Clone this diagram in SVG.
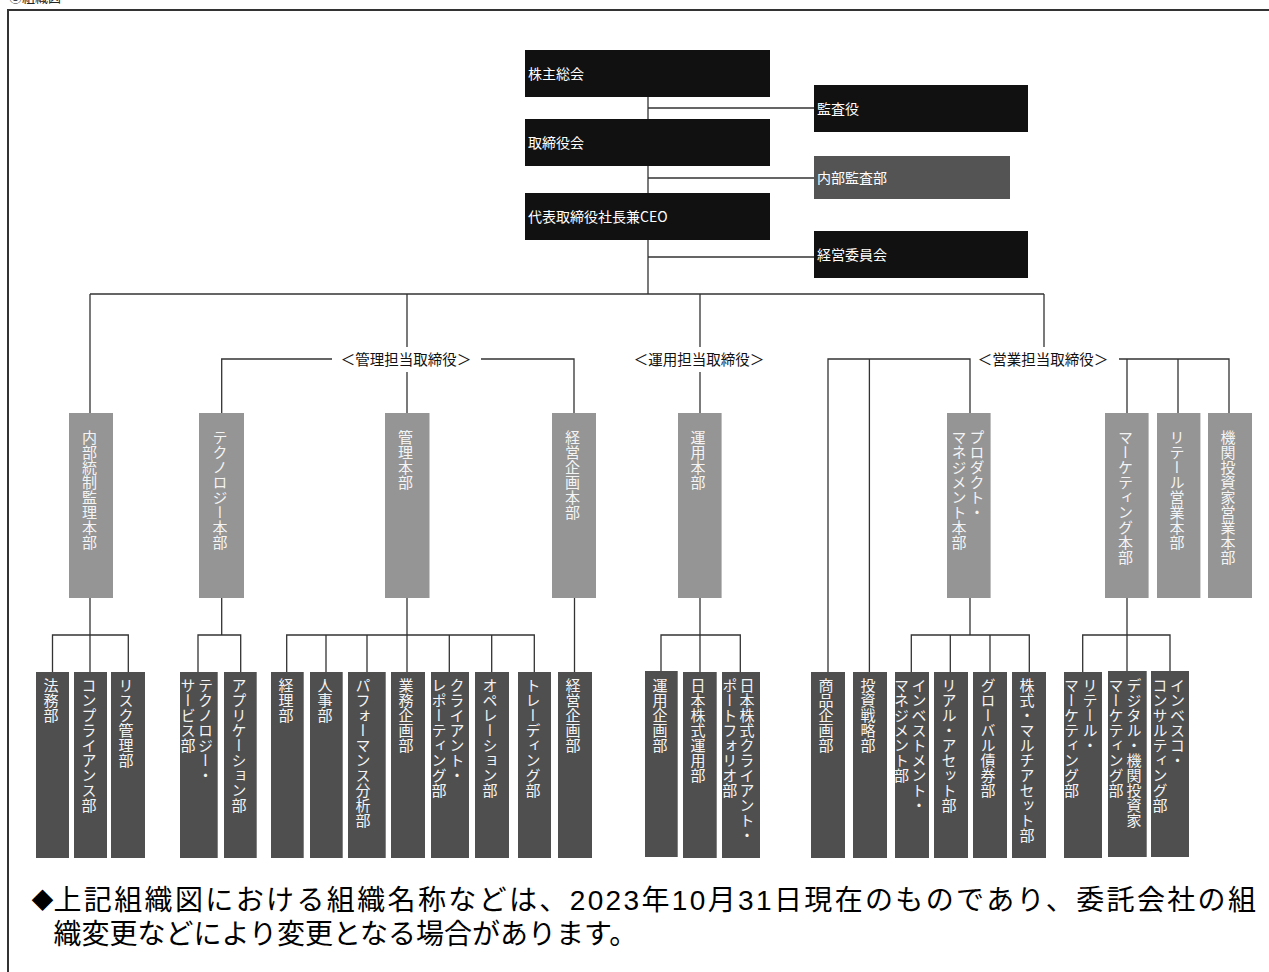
<svg xmlns="http://www.w3.org/2000/svg" width="1269" height="972" viewBox="0 0 1269 972">
<style>
text{font-family:"Noto Sans CJK JP","Noto Sans",sans-serif}
.top{fill:#111}
.mid{fill:#545454}
.l2{fill:#959595}
.l3{fill:#4f4f4f}
.tt{font-size:14px;fill:#fff}
.v{writing-mode:vertical-rl;font-size:15px;fill:#f4f4f4}
.lbl{font-size:14.5px;fill:#111;text-anchor:middle}
.foot{font-family:"Liberation Sans","Noto Sans CJK JP",sans-serif;font-size:28px;fill:#000}
.dia{font-family:"Noto Sans CJK JP",sans-serif;font-size:22px;fill:#000}
#connectors path{fill:none;stroke:#333;stroke-width:1.3}
</style>
<rect x="0" y="0" width="1269" height="972" fill="#fff"/>
<text x="9" y="2" style="font-size:13px;fill:#222">③組織図</text>
<rect x="8" y="10" width="1275" height="975" fill="none" stroke="#333" stroke-width="2"/>

<g id="connectors">
<path d="M648,97V294M648,108H814M648,178H814M648,257H814"/>
<path d="M90,294H1044M90,294V413M407,294V347M700,294V347M1044,294V347"/>
<path d="M221.7,413V359H332M481,359H574V413M407,372V413"/>
<path d="M700,372V413"/>
<path d="M828,672V359H970V413M869.4,359V672M1119,359H1229V413M1127,359V413M1178,359V413"/>
<path d="M90,598V672M52.5,672V635H128.3V672"/>
<path d="M221.7,598V635M198,672V635H240.7V672"/>
<path d="M407,598V672M286.7,672V635H534.3V672M326,635V672M367,635V672M449.3,635V672M491.7,635V672"/>
<path d="M574.5,598V672"/>
<path d="M700,598V672M661,672V635H740.3V672"/>
<path d="M970,598V635M911.3,672V635H1029.3V672M950.3,635V672M990,635V672"/>
<path d="M1127,598V672M1082.7,672V635H1170V672"/>
</g>

<g id="n-kabunushi"><rect class="top" x="525" y="50" width="245" height="47"/><text class="tt" x="528" y="79">株主総会</text></g>
<g id="n-kansayaku"><rect class="top" x="814" y="85" width="214" height="47"/><text class="tt" x="817" y="114">監査役</text></g>
<g id="n-torishimariyakukai"><rect class="top" x="525" y="119" width="245" height="47"/><text class="tt" x="528" y="148">取締役会</text></g>
<g id="n-naibukansa"><rect class="mid" x="814" y="156" width="196" height="43"/><text class="tt" x="817" y="183">内部監査部</text></g>
<g id="n-ceo"><rect class="top" x="525" y="193" width="245" height="47"/><text class="tt" x="528" y="222">代表取締役社長兼CEO</text></g>
<g id="n-keieiiinkai"><rect class="top" x="814" y="231" width="214" height="47"/><text class="tt" x="817" y="260">経営委員会</text></g>

<g id="lbl-kanri"><text class="lbl" x="406" y="365">＜管理担当取締役＞</text></g>
<g id="lbl-unyo"><text class="lbl" x="699" y="365">＜運用担当取締役＞</text></g>
<g id="lbl-eigyo"><text class="lbl" x="1043" y="365">＜営業担当取締役＞</text></g>

<g id="n-naibutosei"><rect class="l2" x="69" y="413" width="44" height="185"/><text class="v" x="89.5" y="430">内部統制監理本部</text></g>
<g id="n-technology"><rect class="l2" x="199" y="413" width="45" height="185"/><text class="v" x="220" y="430">テクノロジー本部</text></g>
<g id="n-kanrihonbu"><rect class="l2" x="385" y="413" width="44.5" height="185"/><text class="v" x="405.5" y="430">管理本部</text></g>
<g id="n-keieikikakuhonbu"><rect class="l2" x="552" y="413" width="44" height="185"/><text class="v" x="572.5" y="430">経営企画本部</text></g>
<g id="n-unyohonbu"><rect class="l2" x="678" y="413" width="43.6" height="185"/><text class="v" x="698" y="430">運用本部</text></g>
<g id="n-product"><rect class="l2" x="947" y="413" width="43.6" height="185"/><text class="v" x="977" y="430">プロダクト・</text><text class="v" x="959" y="430">マネジメント本部</text></g>
<g id="n-marketing"><rect class="l2" x="1105" y="413" width="43.6" height="185"/><text class="v" x="1125.5" y="430">マーケティング本部</text></g>
<g id="n-retail"><rect class="l2" x="1157" y="413" width="43.4" height="185"/><text class="v" x="1177" y="430">リテール営業本部</text></g>
<g id="n-kikan"><rect class="l2" x="1208" y="413" width="44" height="185"/><text class="v" x="1228" y="430">機関投資家営業本部</text></g>

<g id="n-homu"><rect class="l3" x="36" y="672" width="33" height="186"/><text class="v" x="51" y="678">法務部</text></g>
<g id="n-compliance"><rect class="l3" x="74" y="672" width="33" height="186"/><text class="v" x="89" y="678">コンプライアンス部</text></g>
<g id="n-risk"><rect class="l3" x="111" y="672" width="34" height="186"/><text class="v" x="126" y="678">リスク管理部</text></g>
<g id="n-techservice"><rect class="l3" x="180" y="672" width="37.7" height="186"/><text class="v" x="205.5" y="678">テクノロジー・</text><text class="v" x="188" y="678">サービス部</text></g>
<g id="n-application"><rect class="l3" x="224" y="672" width="32.7" height="186"/><text class="v" x="239" y="678">アプリケーション部</text></g>
<g id="n-keiri"><rect class="l3" x="271" y="672" width="32.7" height="186"/><text class="v" x="286" y="678">経理部</text></g>
<g id="n-jinji"><rect class="l3" x="310" y="672" width="32.7" height="186"/><text class="v" x="325" y="678">人事部</text></g>
<g id="n-performance"><rect class="l3" x="348" y="672" width="37.7" height="186"/><text class="v" x="363" y="678">パフォーマンス分析部</text></g>
<g id="n-gyomukikaku"><rect class="l3" x="391" y="672" width="34" height="186"/><text class="v" x="406" y="678">業務企画部</text></g>
<g id="n-clientreporting"><rect class="l3" x="431" y="672" width="38" height="186"/><text class="v" x="457" y="678">クライアント・</text><text class="v" x="439" y="678">レポーティング部</text></g>
<g id="n-operation"><rect class="l3" x="475" y="672" width="34" height="186"/><text class="v" x="490" y="678">オペレーション部</text></g>
<g id="n-trading"><rect class="l3" x="518" y="672" width="33" height="186"/><text class="v" x="533" y="678">トレーディング部</text></g>
<g id="n-keieikikaku"><rect class="l3" x="558" y="672" width="34" height="186"/><text class="v" x="573" y="678">経営企画部</text></g>
<g id="n-unyokikaku"><rect class="l3" x="645" y="671" width="32.7" height="186"/><text class="v" x="660" y="678">運用企画部</text></g>
<g id="n-nihonkabu"><rect class="l3" x="683" y="672" width="33.7" height="186"/><text class="v" x="698" y="678">日本株式運用部</text></g>
<g id="n-nihonkabucp"><rect class="l3" x="722" y="672" width="38" height="186"/><text class="v" x="747" y="678">日本株式クライアント・</text><text class="v" x="729.7" y="678">ポートフォリオ部</text></g>
<g id="n-shohinkikaku"><rect class="l3" x="811" y="672" width="34" height="186"/><text class="v" x="826" y="678">商品企画部</text></g>
<g id="n-toshisenryaku"><rect class="l3" x="853" y="672" width="34" height="186"/><text class="v" x="868" y="678">投資戦略部</text></g>
<g id="n-investment"><rect class="l3" x="895" y="672" width="34" height="186"/><text class="v" x="919" y="678">インベストメント・</text><text class="v" x="901.5" y="678">マネジメント部</text></g>
<g id="n-realasset"><rect class="l3" x="934" y="672" width="34" height="186"/><text class="v" x="949" y="678">リアル・アセット部</text></g>
<g id="n-global"><rect class="l3" x="973" y="672" width="34" height="186"/><text class="v" x="988" y="678">グローバル債券部</text></g>
<g id="n-multiasset"><rect class="l3" x="1012" y="672" width="34" height="186"/><text class="v" x="1027" y="678">株式・マルチアセット部</text></g>
<g id="n-retailmarketing"><rect class="l3" x="1064" y="672" width="38" height="186"/><text class="v" x="1090" y="678">リテール・</text><text class="v" x="1071.5" y="678">マーケティング部</text></g>
<g id="n-digital"><rect class="l3" x="1108" y="671" width="38.7" height="186"/><text class="v" x="1134" y="678">デジタル・機関投資家</text><text class="v" x="1116" y="678">マーケティング部</text></g>
<g id="n-invesco"><rect class="l3" x="1151" y="671" width="38" height="186"/><text class="v" x="1177.5" y="678">インベスコ・</text><text class="v" x="1160" y="678">コンサルティング部</text></g>

<text class="dia" x="31.5" y="908">◆</text>
<text class="foot" x="53.5" y="910" textLength="1202.5" lengthAdjust="spacing">上記組織図における組織名称などは、2023年10月31日現在のものであり、委託会社の組</text>
<text class="foot" x="53.5" y="944">織変更などにより変更となる場合があります。</text>
</svg>
